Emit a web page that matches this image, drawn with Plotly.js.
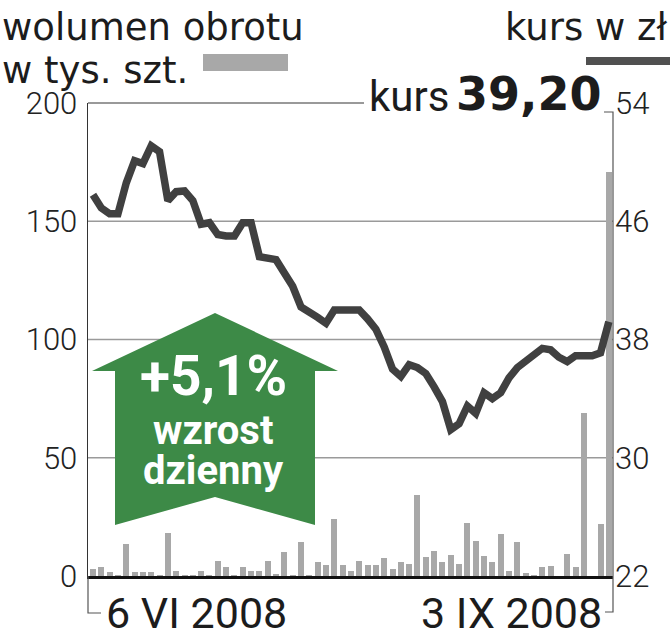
<!DOCTYPE html>
<html>
<head>
<meta charset="utf-8">
<script src="https://cdn.plot.ly/plotly-3.0.1.min.js"></script>
<style>html,body{margin:0;padding:0;background:#fff;}</style>
</head>
<body>
<div id="chart" style="width:670px;height:640px;"></div>
<script>
// ---- data (63 trading days, 6 VI 2008 – 3 IX 2008) ----
var dayIndex = [];
for (var k = 0; k < 63; k++) dayIndex.push(k);

var volume = [2.8,3.8,1.9,0.3,13.6,1.5,1.9,1.5,0.6,18,2,0.4,0.4,2.2,0.4,6.3,4,0.4,3.7,2,
              2,6.5,0.9,10,0.4,14.4,0.4,5.8,4.5,24,4.8,2,6.2,4.8,4.8,7.6,2.8,5.8,5.2,34.2,
              8,10.6,5.8,9,5.2,22.5,15,8.6,5.9,17.8,2,14.3,1.4,0.4,3.7,4.1,0,9.5,3.8,69,
              0,22.2,171];

var price = [47.8,46.9,46.5,46.5,48.6,50.1,49.9,51.1,50.7,47.4,48.0,48.05,47.4,45.8,45.9,45.1,45.0,45.0,45.9,45.9,
             43.6,43.5,43.4,42.5,41.6,40.2,39.9,39.5,39.1,40.0,40.0,40.0,40.0,39.4,38.7,37.5,36.0,35.5,36.3,36.1,
             35.7,34.8,33.8,31.9,32.3,33.5,33.0,34.4,34.0,34.4,35.4,36.1,36.5,36.9,37.4,37.3,36.8,36.5,36.9,36.9,
             36.9,37.1,39.2];

var volTicks = [0,50,100,150,200];
var priceTicks = [22,30,38,46,54];
var dateLabels = ["6 VI 2008","3 IX 2008"];
var leftTitle = ["wolumen obrotu","w tys. szt."];
var rightTitle = "kurs w zł";
var lastLabel = "kurs";
var lastValue = "39,20";
var changeTexts = ["+5,1%","wzrost","dzienny"];

// ---- geometry helpers (pixel -> paper) ----
var L = 88, R = 613, T = 103, B = 576;
function px(x){ return (x - L) / (R - L); }
function py(y){ return (B - y) / (B - T); }

var dark = "#1c1c1c";
var green = "#3d8a47";

var traces = [
  {type:"bar", x:dayIndex, y:volume, yaxis:"y", width:0.72,
   marker:{color:"#a8a8a8", line:{width:0}}, hoverinfo:"skip"},
  {type:"scatter", mode:"lines", x:dayIndex, y:price, yaxis:"y2",
   line:{color:"#404040", width:7.5}, hoverinfo:"skip"}
];

function ann(text, x, y, xa, ya, size, family, color, weight){
  return {text:text, xref:"paper", yref:"paper", x:px(x), y:py(y), xanchor:xa, yanchor:ya,
          showarrow:false, font:{size:size, family:family, color:color||dark, weight:weight||400}};
}

var shapes = [];
// gridlines
[50,100,150].forEach(function(v){
  shapes.push({type:"line", xref:"paper", yref:"y", x0:0, x1:1, y0:v, y1:v,
               line:{color:"#9a9a9a", width:1.5}, layer:"below"});
});
// top frame line
shapes.push({type:"line", xref:"paper", yref:"paper", x0:0, x1:px(364), y0:1, y1:1, line:{color:"#777", width:1.5}});
// right axis line with stub
shapes.push({type:"path", xref:"paper", yref:"paper",
  path:"M"+px(604)+","+py(112)+" L"+px(613)+","+py(112)+" L"+px(613)+","+py(612)+" L"+px(605)+","+py(612),
  line:{color:"#555", width:1.2}});
// left bracket under axis
shapes.push({type:"path", xref:"paper", yref:"paper",
  path:"M"+px(88)+","+py(576)+" L"+px(88)+","+py(613)+" L"+px(101)+","+py(613),
  line:{color:"#555", width:1.2}});
// arrow
var arrowPts = [[215,313],[338,371],[315,371],[315,525],[215,497],[115,525],[115,371],[92,371]];
shapes.push({type:"path", xref:"paper", yref:"paper", layer:"above",
  path:"M"+arrowPts.map(function(p){return px(p[0])+","+py(p[1]);}).join(" L")+" Z",
  fillcolor:green, line:{width:0}});
// legend marks
shapes.push({type:"rect", xref:"paper", yref:"paper", x0:px(203), x1:px(288), y0:py(71), y1:py(54),
  fillcolor:"#a8a8a8", line:{width:0}});
shapes.push({type:"line", xref:"paper", yref:"paper", x0:px(586), x1:px(672), y0:py(61), y1:py(61),
  line:{color:"#505050", width:8}});

var annotations = [
  ann(leftTitle[0], 0, 28, "left", "middle", 37, "DejaVu Sans", dark),
  ann(leftTitle[1], 0, 71, "left", "middle", 37, "DejaVu Sans", dark),
  ann(rightTitle, 503, 28, "left", "middle", 37, "DejaVu Sans", dark),
  ann(lastLabel, 451, 96, "right", "middle", 42, "Roboto", dark),
  ann(lastValue, 604, 94, "right", "middle", 46, "DejaVu Sans", dark, 700),
  ann(dateLabels[0], 104, 613, "left", "middle", 43, "Roboto", dark),
  ann(dateLabels[1], 604, 613, "right", "middle", 43, "Roboto", dark),
  ann(changeTexts[0], 213, 376, "center", "middle", 55, "Roboto", "#ffffff", 700),
  ann(changeTexts[1], 213, 430, "center", "middle", 40, "Roboto", "#ffffff", 700),
  ann(changeTexts[2], 213, 470, "center", "middle", 40, "Roboto", "#ffffff", 700)
];

var layout = {
  width:670, height:640,
  margin:{l:L, r:670-R, t:T, b:640-B, pad:0},
  paper_bgcolor:"#ffffff", plot_bgcolor:"#ffffff",
  showlegend:false, bargap:0,
  xaxis:{range:[-0.6,62.5], showgrid:false, zeroline:false, showticklabels:false, ticks:"",
         showline:true, linecolor:"#111", linewidth:3, fixedrange:true},
  yaxis:{range:[0,200], tickvals:volTicks, ticktext:volTicks.map(String), showgrid:false, zeroline:false,
         showline:true, linecolor:"#333", linewidth:1.5, ticks:"", ticklabelstandoff:3,
         tickfont:{family:"Roboto", size:31, color:"#222", weight:300}},
  yaxis2:{range:[22,54], overlaying:"y", side:"right", tickvals:priceTicks, ticktext:priceTicks.map(String),
          showgrid:false, zeroline:false, showline:false, ticks:"", ticklabelstandoff:1,
          tickfont:{family:"Roboto", size:31, color:"#222", weight:300}},
  shapes:shapes,
  annotations:annotations
};

Plotly.newPlot("chart", traces, layout, {staticPlot:true, displayModeBar:false});
</script>
</body>
</html>
